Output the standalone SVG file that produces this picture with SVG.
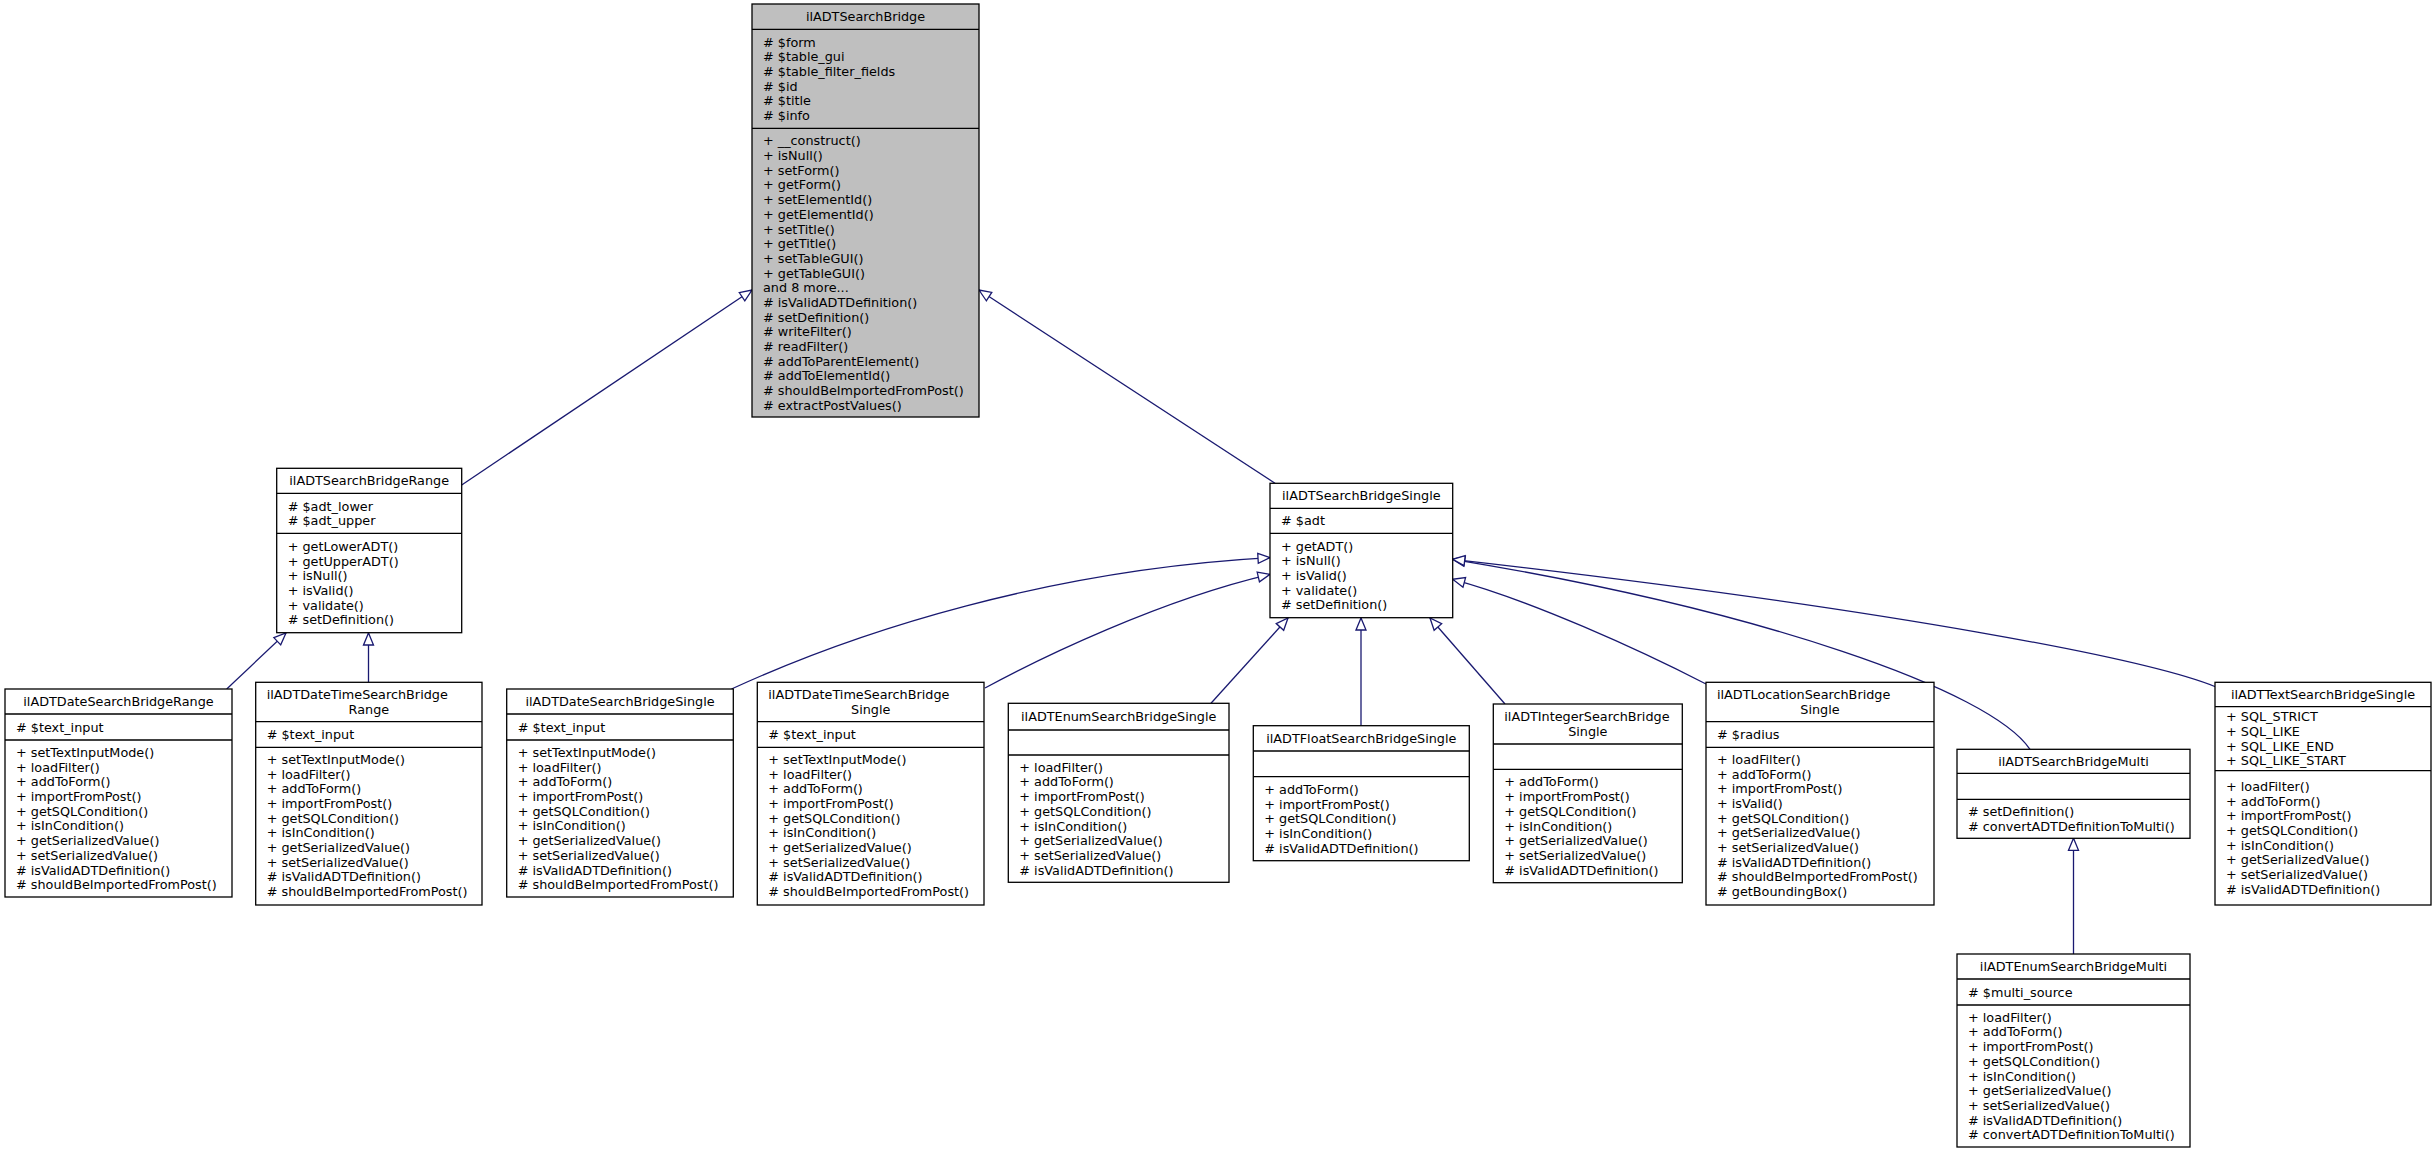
<svg xmlns="http://www.w3.org/2000/svg" width="2432" height="1153" viewBox="0 0 2432 1153">
<style>
.box{fill:#ffffff;stroke:#000000;stroke-width:1.3}
.root{fill:#bfbfbf}
.sep{stroke:#000000;stroke-width:1.3}
text{font-family:"DejaVu Sans","Liberation Sans",sans-serif;font-size:12.8px;fill:#000000}
.c{text-anchor:middle}
.e{fill:none;stroke:#191970;stroke-width:1.3;marker-end:url(#arr)}
</style>
<defs>
<marker id="arr" viewBox="-2 -2 16 14" markerWidth="16" markerHeight="14" refX="12" refY="5" orient="auto" markerUnits="userSpaceOnUse">
<path d="M0,0 L12,5 L0,10 Z" fill="#ffffff" stroke="#191970" stroke-width="1.3"/>
</marker>
</defs>
<rect x="0" y="0" width="2432" height="1153" fill="#ffffff"/>

<g id="connectors">
<path class="e" d="M461.7,485 L752,290"/>
<path class="e" d="M1275,483.3 L979,290"/>
<path class="e" d="M226.7,689 L286,633"/>
<path class="e" d="M368.5,682.3 L368.5,633"/>
<path class="e" d="M731.5,689 C860,630 1050,570 1270,557.7"/>
<path class="e" d="M985,688 C1040,658 1160,600 1270,574.3"/>
<path class="e" d="M1211,703.3 L1288,618"/>
<path class="e" d="M1361,725.7 L1361,618"/>
<path class="e" d="M1505,704 L1430,618"/>
<path class="e" d="M1706,684 C1640,650 1530,600 1452.7,579.3"/>
<path class="e" d="M2030,749.3 C1990,690 1760,610 1452.7,559.3"/>
<path class="e" d="M2216,687 C2150,660 1900,610 1452.7,559.3"/>
<path class="e" d="M2073.5,954 L2073.5,838.3"/>
</g>

<g id="node_ilADTSearchBridge">
<rect class="box root" x="752" y="4" width="227" height="413"/>
<line class="sep" x1="752" y1="29.3" x2="979" y2="29.3"/>
<line class="sep" x1="752" y1="128.3" x2="979" y2="128.3"/>
<text class="c" x="865.5" y="21.2">ilADTSearchBridge</text>
<text x="763" y="46.6"><tspan x="763" dy="0"># $form</tspan><tspan x="763" dy="14.7"># $table_gui</tspan><tspan x="763" dy="14.7"># $table_filter_fields</tspan><tspan x="763" dy="14.7"># $id</tspan><tspan x="763" dy="14.7"># $title</tspan><tspan x="763" dy="14.7"># $info</tspan></text>
<text x="763" y="145.3"><tspan x="763" dy="0">+ __construct()</tspan><tspan x="763" dy="14.7">+ isNull()</tspan><tspan x="763" dy="14.7">+ setForm()</tspan><tspan x="763" dy="14.7">+ getForm()</tspan><tspan x="763" dy="14.7">+ setElementId()</tspan><tspan x="763" dy="14.7">+ getElementId()</tspan><tspan x="763" dy="14.7">+ setTitle()</tspan><tspan x="763" dy="14.7">+ getTitle()</tspan><tspan x="763" dy="14.7">+ setTableGUI()</tspan><tspan x="763" dy="14.7">+ getTableGUI()</tspan><tspan x="763" dy="14.7">and 8 more...</tspan><tspan x="763" dy="14.7"># isValidADTDefinition()</tspan><tspan x="763" dy="14.7"># setDefinition()</tspan><tspan x="763" dy="14.7"># writeFilter()</tspan><tspan x="763" dy="14.7"># readFilter()</tspan><tspan x="763" dy="14.7"># addToParentElement()</tspan><tspan x="763" dy="14.7"># addToElementId()</tspan><tspan x="763" dy="14.7"># shouldBeImportedFromPost()</tspan><tspan x="763" dy="14.7"># extractPostValues()</tspan></text>
</g>

<g id="node_ilADTSearchBridgeRange">
<rect class="box" x="276.7" y="468.3" width="185" height="164.4"/>
<line class="sep" x1="276.7" y1="493.3" x2="461.7" y2="493.3"/>
<line class="sep" x1="276.7" y1="533.3" x2="461.7" y2="533.3"/>
<text class="c" x="369.2" y="485.3">ilADTSearchBridgeRange</text>
<text x="287.7" y="510.5"><tspan x="287.7" dy="0"># $adt_lower</tspan><tspan x="287.7" dy="14.7"># $adt_upper</tspan></text>
<text x="287.7" y="550.8"><tspan x="287.7" dy="0">+ getLowerADT()</tspan><tspan x="287.7" dy="14.7">+ getUpperADT()</tspan><tspan x="287.7" dy="14.7">+ isNull()</tspan><tspan x="287.7" dy="14.7">+ isValid()</tspan><tspan x="287.7" dy="14.7">+ validate()</tspan><tspan x="287.7" dy="14.7"># setDefinition()</tspan></text>
</g>

<g id="node_ilADTSearchBridgeSingle">
<rect class="box" x="1270" y="483.3" width="182.7" height="134.4"/>
<line class="sep" x1="1270" y1="508.3" x2="1452.7" y2="508.3"/>
<line class="sep" x1="1270" y1="533.3" x2="1452.7" y2="533.3"/>
<text class="c" x="1361.3" y="500.3">ilADTSearchBridgeSingle</text>
<text x="1281" y="525.3"># $adt</text>
<text x="1281" y="550.6"><tspan x="1281" dy="0">+ getADT()</tspan><tspan x="1281" dy="14.7">+ isNull()</tspan><tspan x="1281" dy="14.7">+ isValid()</tspan><tspan x="1281" dy="14.7">+ validate()</tspan><tspan x="1281" dy="14.7"># setDefinition()</tspan></text>
</g>

<g id="node_ilADTDateSearchBridgeRange">
<rect class="box" x="5" y="689" width="227" height="208"/>
<line class="sep" x1="5" y1="714" x2="232" y2="714"/>
<line class="sep" x1="5" y1="740" x2="232" y2="740"/>
<text class="c" x="118.5" y="706">ilADTDateSearchBridgeRange</text>
<text x="16" y="731.5"># $text_input</text>
<text x="16" y="756.9"><tspan x="16" dy="0">+ setTextInputMode()</tspan><tspan x="16" dy="14.7">+ loadFilter()</tspan><tspan x="16" dy="14.7">+ addToForm()</tspan><tspan x="16" dy="14.7">+ importFromPost()</tspan><tspan x="16" dy="14.7">+ getSQLCondition()</tspan><tspan x="16" dy="14.7">+ isInCondition()</tspan><tspan x="16" dy="14.7">+ getSerializedValue()</tspan><tspan x="16" dy="14.7">+ setSerializedValue()</tspan><tspan x="16" dy="14.7"># isValidADTDefinition()</tspan><tspan x="16" dy="14.7"># shouldBeImportedFromPost()</tspan></text>
</g>

<g id="node_ilADTDateTimeSearchBridgeRange">
<rect class="box" x="255.7" y="682.3" width="226.3" height="222.7"/>
<line class="sep" x1="255.7" y1="721.7" x2="482" y2="721.7"/>
<line class="sep" x1="255.7" y1="747.3" x2="482" y2="747.3"/>
<text x="266.7" y="699.2">ilADTDateTimeSearchBridge</text>
<text class="c" x="368.9" y="713.9">Range</text>
<text x="266.7" y="739"># $text_input</text>
<text x="266.7" y="763.8"><tspan x="266.7" dy="0">+ setTextInputMode()</tspan><tspan x="266.7" dy="14.7">+ loadFilter()</tspan><tspan x="266.7" dy="14.7">+ addToForm()</tspan><tspan x="266.7" dy="14.7">+ importFromPost()</tspan><tspan x="266.7" dy="14.7">+ getSQLCondition()</tspan><tspan x="266.7" dy="14.7">+ isInCondition()</tspan><tspan x="266.7" dy="14.7">+ getSerializedValue()</tspan><tspan x="266.7" dy="14.7">+ setSerializedValue()</tspan><tspan x="266.7" dy="14.7"># isValidADTDefinition()</tspan><tspan x="266.7" dy="14.7"># shouldBeImportedFromPost()</tspan></text>
</g>

<g id="node_ilADTDateSearchBridgeSingle">
<rect class="box" x="506.7" y="689" width="226.6" height="208"/>
<line class="sep" x1="506.7" y1="714" x2="733.3" y2="714"/>
<line class="sep" x1="506.7" y1="740" x2="733.3" y2="740"/>
<text class="c" x="620" y="706">ilADTDateSearchBridgeSingle</text>
<text x="517.7" y="731.5"># $text_input</text>
<text x="517.7" y="756.9"><tspan x="517.7" dy="0">+ setTextInputMode()</tspan><tspan x="517.7" dy="14.7">+ loadFilter()</tspan><tspan x="517.7" dy="14.7">+ addToForm()</tspan><tspan x="517.7" dy="14.7">+ importFromPost()</tspan><tspan x="517.7" dy="14.7">+ getSQLCondition()</tspan><tspan x="517.7" dy="14.7">+ isInCondition()</tspan><tspan x="517.7" dy="14.7">+ getSerializedValue()</tspan><tspan x="517.7" dy="14.7">+ setSerializedValue()</tspan><tspan x="517.7" dy="14.7"># isValidADTDefinition()</tspan><tspan x="517.7" dy="14.7"># shouldBeImportedFromPost()</tspan></text>
</g>

<g id="node_ilADTDateTimeSearchBridgeSingle">
<rect class="box" x="757.3" y="682.3" width="226.7" height="222.7"/>
<line class="sep" x1="757.3" y1="721.7" x2="984" y2="721.7"/>
<line class="sep" x1="757.3" y1="747.3" x2="984" y2="747.3"/>
<text x="768.3" y="699.2">ilADTDateTimeSearchBridge</text>
<text class="c" x="870.7" y="713.9">Single</text>
<text x="768.3" y="739"># $text_input</text>
<text x="768.3" y="763.8"><tspan x="768.3" dy="0">+ setTextInputMode()</tspan><tspan x="768.3" dy="14.7">+ loadFilter()</tspan><tspan x="768.3" dy="14.7">+ addToForm()</tspan><tspan x="768.3" dy="14.7">+ importFromPost()</tspan><tspan x="768.3" dy="14.7">+ getSQLCondition()</tspan><tspan x="768.3" dy="14.7">+ isInCondition()</tspan><tspan x="768.3" dy="14.7">+ getSerializedValue()</tspan><tspan x="768.3" dy="14.7">+ setSerializedValue()</tspan><tspan x="768.3" dy="14.7"># isValidADTDefinition()</tspan><tspan x="768.3" dy="14.7"># shouldBeImportedFromPost()</tspan></text>
</g>

<g id="node_ilADTEnumSearchBridgeSingle">
<rect class="box" x="1008.3" y="703.3" width="220.7" height="179"/>
<line class="sep" x1="1008.3" y1="730" x2="1229" y2="730"/>
<line class="sep" x1="1008.3" y1="755" x2="1229" y2="755"/>
<text class="c" x="1118.7" y="721.2">ilADTEnumSearchBridgeSingle</text>
<text x="1019.3" y="771.7"><tspan x="1019.3" dy="0">+ loadFilter()</tspan><tspan x="1019.3" dy="14.7">+ addToForm()</tspan><tspan x="1019.3" dy="14.7">+ importFromPost()</tspan><tspan x="1019.3" dy="14.7">+ getSQLCondition()</tspan><tspan x="1019.3" dy="14.7">+ isInCondition()</tspan><tspan x="1019.3" dy="14.7">+ getSerializedValue()</tspan><tspan x="1019.3" dy="14.7">+ setSerializedValue()</tspan><tspan x="1019.3" dy="14.7"># isValidADTDefinition()</tspan></text>
</g>

<g id="node_ilADTFloatSearchBridgeSingle">
<rect class="box" x="1253.3" y="725.7" width="216" height="135"/>
<line class="sep" x1="1253.3" y1="751" x2="1469.3" y2="751"/>
<line class="sep" x1="1253.3" y1="776.7" x2="1469.3" y2="776.7"/>
<text class="c" x="1361.3" y="742.9">ilADTFloatSearchBridgeSingle</text>
<text x="1264.3" y="793.8"><tspan x="1264.3" dy="0">+ addToForm()</tspan><tspan x="1264.3" dy="14.7">+ importFromPost()</tspan><tspan x="1264.3" dy="14.7">+ getSQLCondition()</tspan><tspan x="1264.3" dy="14.7">+ isInCondition()</tspan><tspan x="1264.3" dy="14.7"># isValidADTDefinition()</tspan></text>
</g>

<g id="node_ilADTIntegerSearchBridgeSingle">
<rect class="box" x="1493.3" y="704" width="189" height="178.7"/>
<line class="sep" x1="1493.3" y1="744" x2="1682.3" y2="744"/>
<line class="sep" x1="1493.3" y1="769.3" x2="1682.3" y2="769.3"/>
<text x="1504.3" y="721.2">ilADTIntegerSearchBridge</text>
<text class="c" x="1587.8" y="735.9">Single</text>
<text x="1504.3" y="786.4"><tspan x="1504.3" dy="0">+ addToForm()</tspan><tspan x="1504.3" dy="14.7">+ importFromPost()</tspan><tspan x="1504.3" dy="14.7">+ getSQLCondition()</tspan><tspan x="1504.3" dy="14.7">+ isInCondition()</tspan><tspan x="1504.3" dy="14.7">+ getSerializedValue()</tspan><tspan x="1504.3" dy="14.7">+ setSerializedValue()</tspan><tspan x="1504.3" dy="14.7"># isValidADTDefinition()</tspan></text>
</g>

<g id="node_ilADTLocationSearchBridgeSingle">
<rect class="box" x="1706" y="682.3" width="228" height="222.7"/>
<line class="sep" x1="1706" y1="721.7" x2="1934" y2="721.7"/>
<line class="sep" x1="1706" y1="747.3" x2="1934" y2="747.3"/>
<text x="1717" y="699.2">ilADTLocationSearchBridge</text>
<text class="c" x="1820" y="713.9">Single</text>
<text x="1717" y="739"># $radius</text>
<text x="1717" y="763.8"><tspan x="1717" dy="0">+ loadFilter()</tspan><tspan x="1717" dy="14.7">+ addToForm()</tspan><tspan x="1717" dy="14.7">+ importFromPost()</tspan><tspan x="1717" dy="14.7">+ isValid()</tspan><tspan x="1717" dy="14.7">+ getSQLCondition()</tspan><tspan x="1717" dy="14.7">+ getSerializedValue()</tspan><tspan x="1717" dy="14.7">+ setSerializedValue()</tspan><tspan x="1717" dy="14.7"># isValidADTDefinition()</tspan><tspan x="1717" dy="14.7"># shouldBeImportedFromPost()</tspan><tspan x="1717" dy="14.7"># getBoundingBox()</tspan></text>
</g>

<g id="node_ilADTSearchBridgeMulti">
<rect class="box" x="1957" y="749.3" width="233" height="89"/>
<line class="sep" x1="1957" y1="773.3" x2="2190" y2="773.3"/>
<line class="sep" x1="1957" y1="799.3" x2="2190" y2="799.3"/>
<text class="c" x="2073.5" y="765.8">ilADTSearchBridgeMulti</text>
<text x="1968" y="816"><tspan x="1968" dy="0"># setDefinition()</tspan><tspan x="1968" dy="14.7"># convertADTDefinitionToMulti()</tspan></text>
</g>

<g id="node_ilADTEnumSearchBridgeMulti">
<rect class="box" x="1957" y="954" width="233" height="193"/>
<line class="sep" x1="1957" y1="979" x2="2190" y2="979"/>
<line class="sep" x1="1957" y1="1005" x2="2190" y2="1005"/>
<text class="c" x="2073.5" y="971">ilADTEnumSearchBridgeMulti</text>
<text x="1968" y="996.5"># $multi_source</text>
<text x="1968" y="1021.7"><tspan x="1968" dy="0">+ loadFilter()</tspan><tspan x="1968" dy="14.7">+ addToForm()</tspan><tspan x="1968" dy="14.7">+ importFromPost()</tspan><tspan x="1968" dy="14.7">+ getSQLCondition()</tspan><tspan x="1968" dy="14.7">+ isInCondition()</tspan><tspan x="1968" dy="14.7">+ getSerializedValue()</tspan><tspan x="1968" dy="14.7">+ setSerializedValue()</tspan><tspan x="1968" dy="14.7"># isValidADTDefinition()</tspan><tspan x="1968" dy="14.7"># convertADTDefinitionToMulti()</tspan></text>
</g>

<g id="node_ilADTTextSearchBridgeSingle">
<rect class="box" x="2215" y="682.3" width="216" height="222.7"/>
<line class="sep" x1="2215" y1="706.7" x2="2431" y2="706.7"/>
<line class="sep" x1="2215" y1="770.7" x2="2431" y2="770.7"/>
<text class="c" x="2323" y="699">ilADTTextSearchBridgeSingle</text>
<text x="2226" y="721.2"><tspan x="2226" dy="0">+ SQL_STRICT</tspan><tspan x="2226" dy="14.7">+ SQL_LIKE</tspan><tspan x="2226" dy="14.7">+ SQL_LIKE_END</tspan><tspan x="2226" dy="14.7">+ SQL_LIKE_START</tspan></text>
<text x="2226" y="790.9"><tspan x="2226" dy="0">+ loadFilter()</tspan><tspan x="2226" dy="14.7">+ addToForm()</tspan><tspan x="2226" dy="14.7">+ importFromPost()</tspan><tspan x="2226" dy="14.7">+ getSQLCondition()</tspan><tspan x="2226" dy="14.7">+ isInCondition()</tspan><tspan x="2226" dy="14.7">+ getSerializedValue()</tspan><tspan x="2226" dy="14.7">+ setSerializedValue()</tspan><tspan x="2226" dy="14.7"># isValidADTDefinition()</tspan></text>
</g>
</svg>
